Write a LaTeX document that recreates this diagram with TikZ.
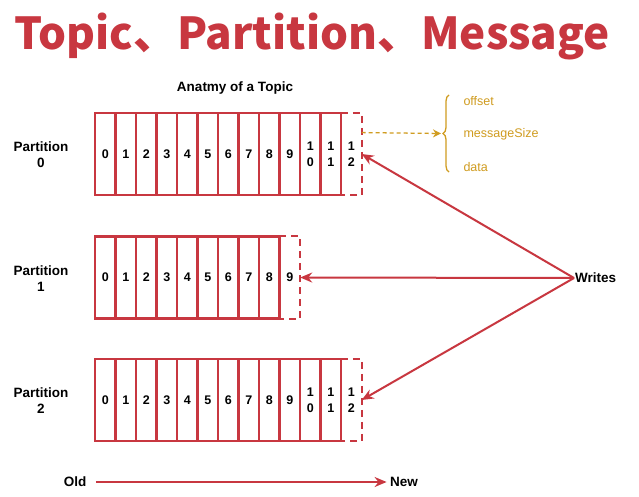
\documentclass[tikz,border=0pt]{standalone}
\usepackage{fontspec}
\setmainfont{Liberation Sans}
\newfontfamily\cjkfont{Noto Sans CJK SC}
\usetikzlibrary{arrows.meta,decorations.pathreplacing,calc}
\definecolor{kred}{RGB}{200,55,64}
\definecolor{kgold}{RGB}{208,156,32}
\tikzset{
  cell/.style={draw=kred, line width=2.3pt, minimum width=20.5pt, minimum height=82pt,
    inner sep=0pt, align=center, font=\bfseries\fontsize{12.5}{16}\selectfont},
  newcell/.style={minimum width=20.5pt, minimum height=82pt, inner sep=0pt,
    align=center, font=\bfseries\fontsize{12.5}{16}\selectfont},
  newedge/.style={draw=kred, line width=2.3pt, dash pattern=on 7pt off 5pt},
  lbl/.style={align=center, font=\bfseries\fontsize{13.5}{16}\selectfont},
  wr/.style={draw=kred, line width=2pt, -{Stealth[length=12pt,width=10pt]}},
  item/.style={anchor=west, text=kgold, font=\fontsize{12.5}{14}\selectfont}
}

\begin{document}
\begin{tikzpicture}[x=1pt,y=-1pt]
\useasboundingbox[fill=white] (0,0) rectangle (639,497);

\node[anchor=base, text=kred, font=\cjkfont\bfseries\fontsize{44}{44}\selectfont] (title) at (312,50) {Topic、Partition、Message};
\node[lbl] (anatomy) at (235,88) {Anatmy of a Topic};

% partition 0
\node[lbl] (l0) at (41,155) {Partition\\0};
\foreach \i/\t in {0/0,1/1,2/2,3/3,4/4,5/5,6/6,7/7,8/8,9/9,10/1\\0,11/1\\1}
  \node[cell] (p0c\i) at ({105.25+20.5*\i},154) {\t};
\node[newcell] (p0n) at ({105.25+20.5*12},154) {1\\2};
\draw[newedge] (p0n.north west) -- (p0n.north east) -- (p0n.south east) -- (p0n.south west);

% partition 1
\node[lbl] (l1) at (41,279) {Partition\\1};
\foreach \i in {0,...,8}
  \node[cell] (p1c\i) at ({105.25+20.5*\i},277.5) {\i};
\node[newcell] (p1n) at ({105.25+20.5*9},277.5) {9};
\draw[newedge] (p1n.north west) -- (p1n.north east) -- (p1n.south east) -- (p1n.south west);

% partition 2
\node[lbl] (l2) at (41,401) {Partition\\2};
\foreach \i/\t in {0/0,1/1,2/2,3/3,4/4,5/5,6/6,7/7,8/8,9/9,10/1\\0,11/1\\1}
  \node[cell] (p2c\i) at ({105.25+20.5*\i},400) {\t};
\node[newcell] (p2n) at ({105.25+20.5*12},400) {1\\2};
\draw[newedge] (p2n.north west) -- (p2n.north east) -- (p2n.south east) -- (p2n.south west);

% writes
\node[lbl, anchor=west, inner sep=1pt] (writes) at (574,278) {Writes};
\draw[wr] (writes.west) -- (p0n.east);
\draw[wr] (writes.west) -- (p1n.east);
\draw[wr] (writes.west) -- (p2n.east);

% message fields
\coordinate (btop) at (449,95);
\coordinate (bbot) at (449,172);
\draw[kgold, line width=1.3pt, decorate, decoration={brace, amplitude=6pt}] (bbot) -- (btop);
\coordinate (btip) at (441,133.5);
\draw[kgold, line width=1.3pt, dash pattern=on 4pt off 3pt, -{Stealth[length=8pt,width=8pt]}] ($(p0n.north east)!0.24!(p0n.south east)$) -- (btip);
\node[item] (offset) at (460,101) {offset};
\node[item] (msize) at (460,134) {messageSize};
\node[item] (data) at (460,167) {data};

% old to new
\node[lbl] (old) at (75,482) {Old};
\node[lbl] (new) at (404,482) {New};
\draw[wr, shorten <=6pt] (old.east) -- (new.west);
\end{tikzpicture}
\end{document}
